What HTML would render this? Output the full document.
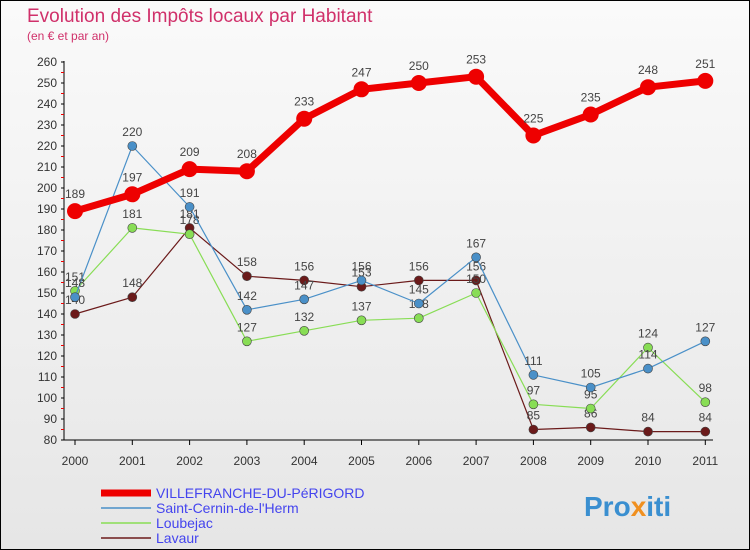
<!DOCTYPE html>
<html><head><meta charset="utf-8"><style>
body{margin:0;width:750px;height:550px;overflow:hidden;font-family:"Liberation Sans",sans-serif}
#wrap{position:relative;width:748px;height:548px;border:1px solid #000;background:linear-gradient(#fafafa,#e6e6e6)}
</style></head><body>
<div id="wrap">
<svg id="chart" width="748" height="548" style="position:absolute;left:0;top:0">
<text x="26" y="21" font-size="19" fill="#d0306a">Evolution des Impôts locaux par Habitant</text>
<text x="26" y="39" font-size="12" fill="#d0306a">(en € et par an)</text>
<g id="axes"></g><g id="series"></g><g id="legend"></g>
<text x="583" y="515" font-size="28" font-weight="bold" fill="#3a8fd0">Pro<tspan fill="#f09020">x</tspan>iti</text>
</svg></div>
<script>
const years=["2000","2001","2002","2003","2004","2005","2006","2007","2008","2009","2010","2011"];
const yTicks=[80,90,100,110,120,130,140,150,160,170,180,190,200,210,220,230,240,250,260];
const villefranche=[189,197,209,208,233,247,250,253,225,235,248,251];
const saintCernin=[148,220,191,142,147,156,145,167,111,105,114,127];
const loubejac=[151,181,178,127,132,137,138,150,97,95,124,98];
const lavaur=[140,148,181,158,156,153,156,156,85,86,84,84];
const NS="http://www.w3.org/2000/svg";
const X=i=>74+i*57.3, Y=v=>439-(v-80)*(378/180);
function mk(t,a,p){const e=document.createElementNS(NS,t);for(const k in a)e.setAttribute(k,a[k]);p.appendChild(e);return e;}
const ax=document.getElementById('axes');
let l=mk('line',{x1:63,y1:60,x2:63,y2:439,stroke:'#000'},ax);

l=mk('line',{x1:63,y1:439,x2:712,y2:439,stroke:'#000'},ax);

yTicks.forEach(v=>{const t=mk('text',{x:56,y:Y(v)+4,'font-size':12,fill:'#333','text-anchor':'end'},ax);t.textContent=v;

mk('line',{x1:60,y1:Y(v),x2:63,y2:Y(v),stroke:'#000'},ax);
if(v<260)mk('line',{x1:60,y1:Y(v+5),x2:63,y2:Y(v+5),stroke:'#e00'},ax);});
years.forEach((y,i)=>{const t=mk('text',{x:X(i),y:464,'font-size':12,fill:'#333','text-anchor':'middle'},ax);t.textContent=y;

mk('line',{x1:X(i),y1:439,x2:X(i),y2:444,stroke:'#000'},ax);});
const sg=document.getElementById('series');
const series=[[lavaur,'#6b1a1a',1.2,4.5,'lavaur'],[loubejac,'#88dd55',1.2,4.5,'loubejac'],[saintCernin,'#4a90c8',1.2,4.5,'saint-cernin'],[villefranche,'#ee0000',7,8,'villefranche']];
series.forEach(([d,c,w,r,n])=>{const g=mk('g',{},sg);
const p=mk('polyline',{points:d.map((v,i)=>X(i)+','+Y(v)).join(' '),fill:'none',stroke:c,'stroke-width':w,'stroke-linejoin':'round'},g);

d.forEach((v,i)=>{const ci=mk('circle',{cx:X(i),cy:Y(v),r:r,fill:c,stroke:w>2?'none':'#444','stroke-width':0.6},g);

const t=mk('text',{x:X(i),y:Y(v)-(w>2?13:10),'font-size':12,fill:'#444','text-anchor':'middle'},g);t.textContent=v;
});});
const lg=document.getElementById('legend');
const leg=[['VILLEFRANCHE-DU-PéRIGORD','#ee0000',7],['Saint-Cernin-de-l\'Herm','#4a90c8',1.5],['Loubejac','#88dd55',1.5],['Lavaur','#6b1a1a',1.5]];
leg.forEach(([n,c,w],i)=>{const y=492+i*15;
const ln=mk('line',{x1:100,y1:y,x2:150,y2:y,stroke:c,'stroke-width':w},lg);

const t=mk('text',{x:155,y:y+5,'font-size':14,fill:'#4444ee'},lg);t.textContent=n;
});
</script>
</body></html>
